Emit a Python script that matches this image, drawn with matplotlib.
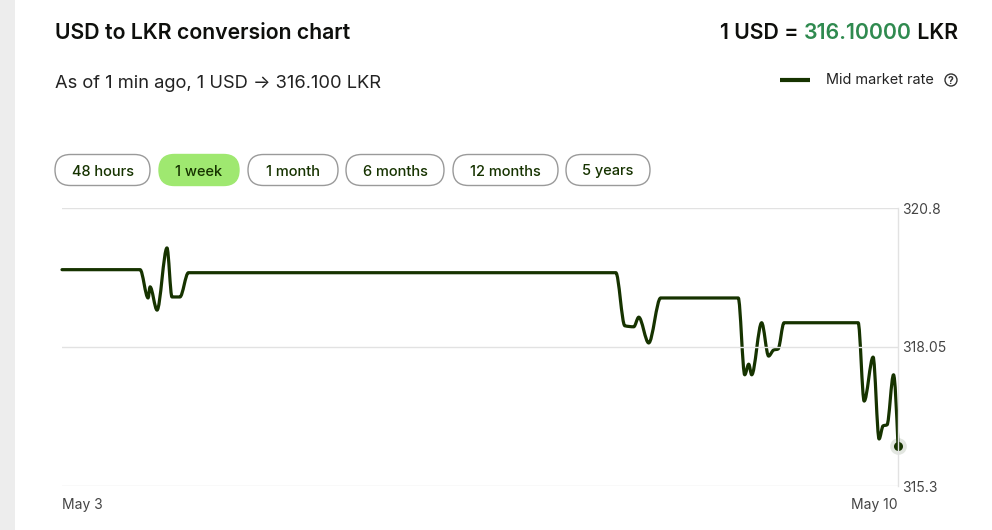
import matplotlib
matplotlib.use("Agg")
import matplotlib.pyplot as plt
from matplotlib.path import Path
from matplotlib.patches import PathPatch, FancyBboxPatch, Rectangle, Circle
import numpy as np

plt.rcParams['font.family'] = ['Inter', 'DejaVu Sans']

# ---------------- data ----------------
hours = [0, 15.7, 17.3, 17.7, 19.1, 21.1, 22.1, 23.7, 25.4,
         111.3, 113.1, 114.9, 115.9, 117.9, 120.3,
         135.9, 137.2, 138.0, 138.6, 140.6, 142.0, 143.0, 143.9, 145.1,
         160.0, 161.2, 163.0, 164.2, 165.0, 165.8, 167.1, 168.0]
rates = [319.58, 319.58, 319.02, 319.24, 318.78, 320.01, 319.04, 319.04, 319.52,
         319.52, 318.47, 318.45, 318.64, 318.13, 319.02,
         319.02, 317.50, 317.71, 317.50, 318.53, 317.87, 317.99, 318.01, 318.53,
         318.53, 316.98, 317.85, 316.23, 316.49, 316.51, 317.50, 316.10]
xtick_pos = [0, 168]
xtick_labels = ["May 3", "May 10"]
ytick_vals = [315.3, 318.05, 320.8]
ytick_labels = ["315.3", "318.05", "320.8"]
periods = ["48 hours", "1 week", "1 month", "6 months", "12 months", "5 years"]
active_period = "1 week"

LINE = "#163300"
GREEN_TXT = "#2f8a4f"
PILL_GREEN = "#9fe870"

W, H = 992, 530
fig = plt.figure(figsize=(W / 100, H / 100), dpi=100)
fig.patch.set_facecolor("white")

# overlay in pixel coords
ov = fig.add_axes([0, 0, 1, 1])
ov.set_xlim(0, W)
ov.set_ylim(H, 0)
ov.axis("off")
ov.add_patch(Rectangle((0, 0), 15, H, color="#ededed", lw=0))

HFS = 15.3
ov.text(55, 33, "USD to LKR conversion chart", fontsize=HFS, fontweight="semibold",
        color="#0e0f0c", va="center", ha="left")
ov.text(55, 83, "As of 1 min ago, 1 USD \u2192 316.100 LKR", fontsize=13.2,
        color="#222222", va="center", ha="left")

# right header with coloured number
t3 = ov.text(958, 33, " LKR", fontsize=HFS, fontweight="semibold", color="#0e0f0c",
             va="center", ha="right")
fig.canvas.draw()
r = fig.canvas.get_renderer()
bb = t3.get_window_extent(r)
x_lkr = bb.x0
t2 = ov.annotate("316.10000", xy=(x_lkr, H - 33), xycoords="figure pixels",
                 fontsize=HFS, fontweight="semibold", color=GREEN_TXT, va="center", ha="right")
fig.canvas.draw()
bb2 = t2.get_window_extent(r)
ov.annotate("1 USD = ", xy=(bb2.x0, H - 33), xycoords="figure pixels",
            fontsize=HFS, fontweight="semibold", color="#0e0f0c", va="center", ha="right")

# legend
ov.plot([780, 810], [80, 80], color=LINE, lw=3, solid_capstyle="butt")
ov.text(826, 80, "Mid market rate", fontsize=10.4, color="#222222", va="center", ha="left")
ov.add_patch(Circle((951, 80), 6, fill=False, ec="#333333", lw=1.0))
ov.text(951, 80.5, "?", fontsize=7.5, color="#333333", va="center", ha="center", fontweight="bold")

# pills
pill_x = [(55, 150), (159, 239), (248, 338), (346, 444), (453, 558), (566, 650)]
for (x0, x1), lab in zip(pill_x, periods):
    active = lab == active_period
    p = FancyBboxPatch((x0, 154.5), (x1 - x0), 31,
                       boxstyle="round,pad=0,rounding_size=15.5",
                       fc=PILL_GREEN if active else "white",
                       ec=PILL_GREEN if active else "#9a9a9a", lw=1.0)
    ov.add_patch(p)
    ov.text((x0 + x1) / 2, 171.5, lab, fontsize=10.5, color="#163300",
            va="center", ha="center", fontweight="medium")

# ---------------- chart ----------------
ax = fig.add_axes([62 / W, 1 - 486 / H, (898 - 62) / W, (486 - 208) / H])
ax.set_facecolor("none")
ax.set_xlim(0, 168)
ax.set_ylim(315.3, 320.8)
for s in ["top", "left", "bottom"]:
    ax.spines[s].set_visible(False)
ax.spines["right"].set_color("#e2e2e2")
ax.spines["right"].set_linewidth(1)
ax.yaxis.tick_right()
ax.set_yticks(ytick_vals)
ax.set_yticklabels(ytick_labels)
ax.tick_params(axis="y", length=0, pad=3, labelsize=10, labelcolor="#444444")
ax.grid(axis="y", color="#e2e2e2", lw=1)
ax.set_xticks(xtick_pos)
ax.set_xticklabels(xtick_labels)
ax.tick_params(axis="x", length=0, pad=9, labelsize=10, labelcolor="#444444")
xl = ax.get_xticklabels()
xl[0].set_ha("left")
xl[1].set_ha("right")


# monotone cubic (d3 monotoneX) path
def monotone_path(xs, ys):
    xs = np.asarray(xs, float)
    ys = np.asarray(ys, float)
    n = len(xs)
    t = np.zeros(n)
    for i in range(1, n - 1):
        h0 = xs[i] - xs[i - 1]
        h1 = xs[i + 1] - xs[i]
        s0 = (ys[i] - ys[i - 1]) / h0
        s1 = (ys[i + 1] - ys[i]) / h1
        p = (s0 * h1 + s1 * h0) / (h0 + h1)
        t[i] = (np.sign(s0) + np.sign(s1)) * min(abs(s0), abs(s1), 0.5 * abs(p))
    h = xs[1] - xs[0]
    t[0] = (3 * (ys[1] - ys[0]) / h - t[1]) / 2
    h = xs[-1] - xs[-2]
    t[-1] = (3 * (ys[-1] - ys[-2]) / h - t[-2]) / 2
    verts = [(xs[0], ys[0])]
    codes = [Path.MOVETO]
    for i in range(n - 1):
        dx = (xs[i + 1] - xs[i]) / 3
        verts += [(xs[i] + dx, ys[i] + dx * t[i]),
                  (xs[i + 1] - dx, ys[i + 1] - dx * t[i + 1]),
                  (xs[i + 1], ys[i + 1])]
        codes += [Path.CURVE4] * 3
    return Path(verts, codes)


ax.add_patch(PathPatch(monotone_path(hours, rates), fill=False, ec=LINE, lw=2.3,
                       joinstyle="round", capstyle="round", clip_on=False))
ax.plot([hours[-1]], [rates[-1]], "o", ms=12, color=LINE, alpha=0.12, mec="none", clip_on=False)
ax.plot([hours[-1]], [rates[-1]], "o", ms=6.5, color=LINE, mec="none", clip_on=False)

fig.savefig("out.png", dpi=100, facecolor="white")
